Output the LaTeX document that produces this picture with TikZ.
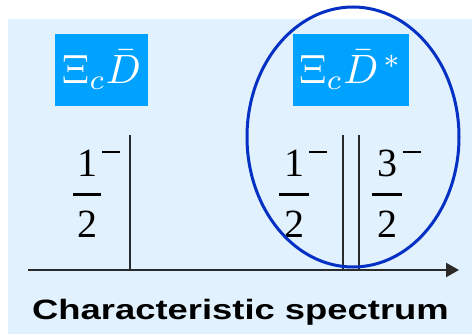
\documentclass[tikz,border=0pt]{standalone}
\usepackage{fontspec}
\setmainfont{Liberation Serif}
\newfontfamily\capfont{Liberation Sans}
\usetikzlibrary{arrows.meta}
\definecolor{bgblue}{HTML}{E1F1FD}
\definecolor{boxblue}{HTML}{00A2FF}
\definecolor{ringblue}{HTML}{0530C4}
\definecolor{linegray}{HTML}{2A2A2A}
\tikzset{
  label box/.style={fill=boxblue, text=white, inner sep=0pt},
  digit/.style={inner sep=0pt, font=\fontsize{40}{44}\selectfont},
  supminus/.style={draw=black, line width=2.2pt},
  level line/.style={draw=linegray, line width=2.4pt},
  frac bar/.style={draw=black, line width=3pt},
  axis line/.style={draw=linegray, line width=2.4pt, -{Triangle[length=13pt,width=14pt]}},
  ring/.style={draw=ringblue, line width=3pt}
}
\begin{document}
\begin{tikzpicture}[x=1pt,y=-1pt]
\useasboundingbox (0,0) rectangle (472,334);
\fill[bgblue] (8,19) rectangle (472,334);
% labels in boxes
\node[label box, minimum width=93pt, minimum height=72pt] (box1) at (101.5,70) {\scalebox{4.1}{$\Xi_c\bar D$}};
\node[label box, minimum width=116pt, minimum height=72pt] (box2) at (351,70) {\scalebox{4.1}{$\Xi_c\bar D^{\,*}$}};
% axis
\coordinate (axL) at (28,270);
\coordinate (axR) at (459,270);
\draw[axis line] (axL) -- (axR);
% level lines
\coordinate (l1t) at (130,135); \coordinate (l1b) at (130,270);
\coordinate (l2t) at (343,135); \coordinate (l2b) at (343,270);
\coordinate (l3t) at (359,135); \coordinate (l3b) at (359,270);
\draw[level line] (l1t) -- (l1b);
\draw[level line] (l2t) -- (l2b);
\draw[level line] (l3t) -- (l3b);
% fraction 1
\node[digit] (n1) at (87,163) {1};
\node[digit] (d1) at (87,224) {2};
\coordinate (b1l) at (73,195); \coordinate (b1r) at (101,195);
\draw[frac bar] (b1l) -- (b1r);
\coordinate (m1l) at (102,152); \coordinate (m1r) at (120,152);
\draw[supminus] (m1l) -- (m1r);
% fraction 2
\node[digit] (n2) at (294,163) {1};
\node[digit] (d2) at (294,224) {2};
\coordinate (b2l) at (279,195); \coordinate (b2r) at (309,195);
\draw[frac bar] (b2l) -- (b2r);
\coordinate (m2l) at (309,152); \coordinate (m2r) at (327,152);
\draw[supminus] (m2l) -- (m2r);
% fraction 3
\node[digit] (n3) at (387,163) {3};
\node[digit] (d3) at (387,224) {2};
\coordinate (b3l) at (372,195); \coordinate (b3r) at (402,195);
\draw[frac bar] (b3l) -- (b3r);
\coordinate (m3l) at (403,152); \coordinate (m3r) at (421,152);
\draw[supminus] (m3l) -- (m3r);
% ring
\draw[ring] (353,137) ellipse [x radius=106, y radius=130];
% caption
\node[inner sep=0pt, font=\capfont\bfseries\fontsize{28}{30}\selectfont] (cap) at (240.5,312) {\scalebox{1.3}[1]{Characteristic spectrum}};
\end{tikzpicture}
\end{document}
